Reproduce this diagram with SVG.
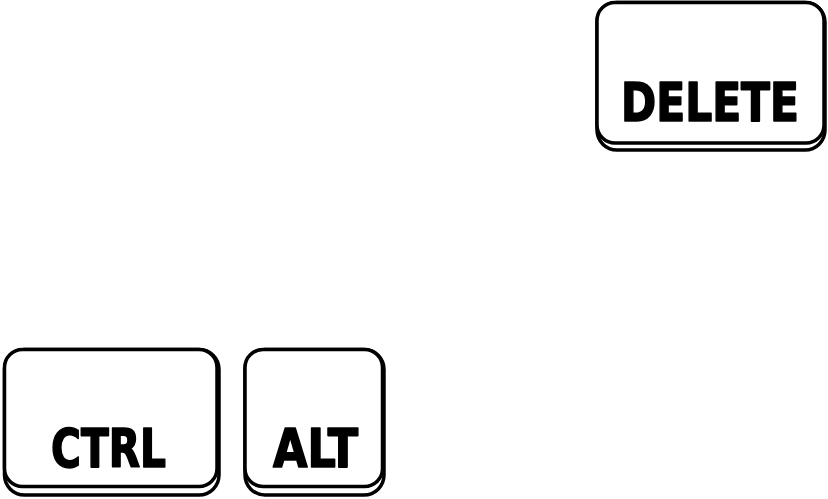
<svg xmlns="http://www.w3.org/2000/svg" width="828" height="499" viewBox="0 0 828 499">
<style>
.base{fill:#fff;stroke:#000;stroke-width:3.5}
.face{fill:#fff;stroke:#000;stroke-width:3.5}
.lbl{font-family:"Liberation Sans Narrow","DejaVu Sans Condensed","Liberation Sans",sans-serif;font-weight:bold;font-size:54px;fill:#000;stroke:#000;stroke-width:1.6;stroke-linejoin:round}
</style>
<rect width="828" height="499" fill="#fff"/>
<g id="delete">
<rect class="base" x="597" y="2.5" width="228" height="147.5" rx="20"/>
<rect class="face" x="597" y="2.5" width="227" height="140.5" rx="18"/>
<text class="lbl" x="621" y="121" textLength="178" lengthAdjust="spacingAndGlyphs">DELETE</text>
</g>
<g id="ctrl">
<rect class="base" x="4.5" y="349.5" width="214.5" height="145.5" rx="20"/>
<rect class="face" x="4.5" y="349.5" width="212.5" height="137" rx="18"/>
<text class="lbl" x="51" y="467" textLength="115" lengthAdjust="spacingAndGlyphs">CTRL</text>
</g>
<g id="alt">
<rect class="base" x="245" y="349.5" width="139" height="145.5" rx="20"/>
<rect class="face" x="245" y="349.5" width="137.5" height="137" rx="18"/>
<text class="lbl" x="273" y="467" textLength="85" lengthAdjust="spacingAndGlyphs">ALT</text>
</g>
<g id="connectors"/>
</svg>
